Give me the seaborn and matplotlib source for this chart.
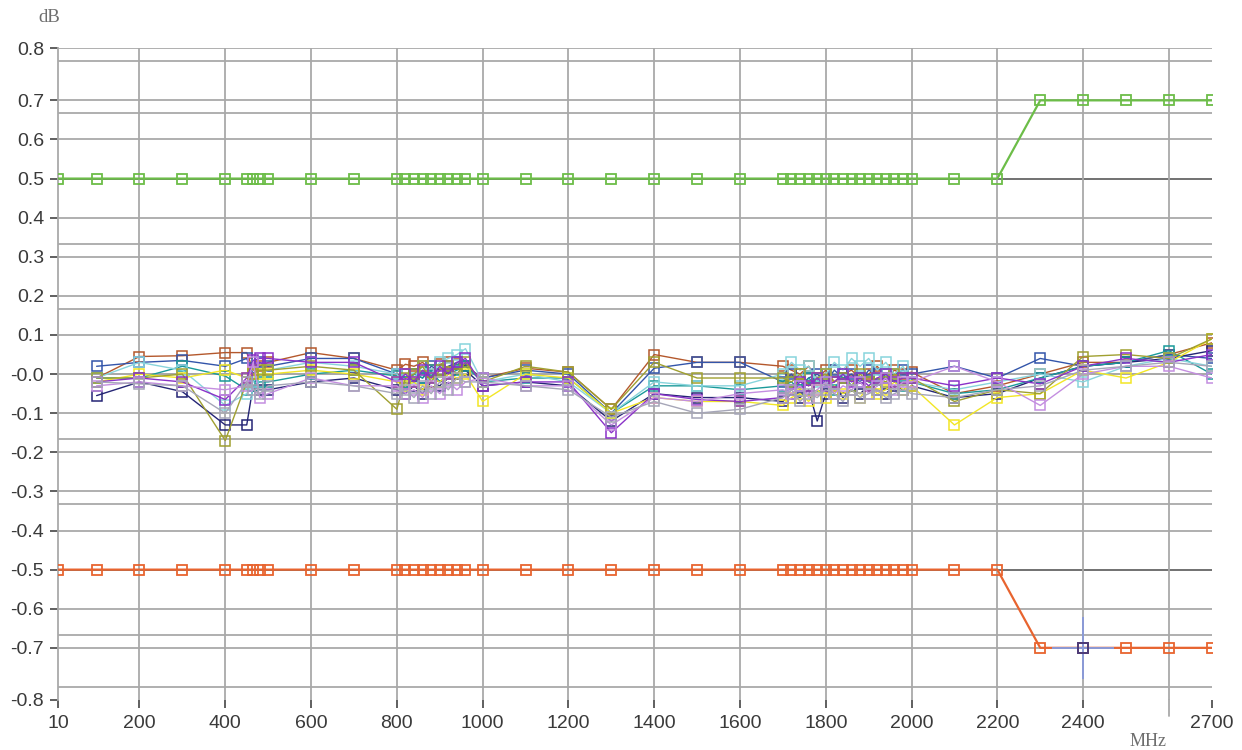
import numpy as np
import pandas as pd
import matplotlib
matplotlib.use("Agg")
import matplotlib.pyplot as plt
import seaborn as sns

# ---- frequencies (MHz) ----
freq = [100, 200, 300, 400,
        450, 465, 480, 500,
        600, 700,
        800, 820, 840, 860, 880, 900, 920, 940, 960,
        1000, 1100, 1200, 1300, 1400, 1500, 1600,
        1700, 1720, 1740, 1760, 1780, 1800, 1820, 1840, 1860, 1880,
        1900, 1920, 1940, 1960, 1980, 2000,
        2100, 2200, 2300, 2400, 2500, 2600, 2700]
limit_freq = [10] + freq

# ---- limit lines (dB): +/-0.5 up to 2200 MHz, +/-0.7 above ----
upper_limit = [0.5] * 45 + [0.7] * 5
lower_limit = [-0.5] * 45 + [-0.7] * 5

# ---- measured deviation per unit (dB) ----
brown = [-0.01, 0.045, 0.047, 0.055,
         0.055, 0.01, 0.02, 0.03,
         0.055, 0.04,
         0.01, 0.025, 0.02, 0.03, 0.01, 0.025, 0.03, 0.025, 0.02,
         -0.01, 0.015, 0.005, -0.09, 0.05, 0.03, 0.03,
         0.02, 0.01, 0.0, 0.02, -0.01, 0.01, -0.02, 0.0, 0.01, -0.01,
         0.0, 0.02, -0.01, 0.01, 0.0, 0.005,
         -0.05, -0.03, 0.0, 0.03, 0.03, 0.05, 0.08]
blue = [0.02, 0.03, 0.035, 0.02,
        0.04, 0.0, 0.03, 0.02,
        0.04, 0.04,
        0.0, -0.02, 0.0, -0.01, 0.02, 0.01, 0.02, 0.03, 0.02,
        -0.01, 0.01, 0.0, -0.1, 0.015, 0.03, 0.03,
        -0.02, 0.0, -0.03, -0.01, 0.0, -0.02, 0.01, -0.01, 0.0, -0.02,
        0.01, 0.0, -0.01, 0.0, 0.01, 0.0,
        0.02, -0.01, 0.04, 0.02, 0.03, 0.05, 0.04]
navy = [-0.055, -0.02, -0.045, -0.13,
        -0.13, -0.03, -0.04, -0.04,
        -0.02, -0.01,
        -0.04, -0.05, -0.03, -0.05, -0.02, -0.03, -0.01, 0.0, 0.01,
        -0.03, -0.02, -0.03, -0.12, -0.05, -0.06, -0.06,
        -0.07, -0.05, -0.06, -0.04, -0.12, -0.05, -0.03, -0.06, -0.04, -0.05,
        -0.03, -0.04, -0.05, -0.03, -0.04, -0.03,
        -0.06, -0.05, -0.01, 0.02, 0.03, 0.04, 0.06]
teal = [-0.01, -0.01, 0.02, -0.005,
        -0.04, -0.03, -0.02, -0.02,
        0.0, 0.01,
        -0.005, -0.02, 0.0, -0.01, 0.01, -0.02, 0.0, 0.01, 0.02,
        -0.02, -0.01, -0.01, -0.1, -0.03, -0.03, -0.04,
        -0.03, -0.02, -0.04, -0.01, -0.03, -0.02, -0.04, 0.0, -0.03, -0.01,
        -0.02, -0.03, 0.0, -0.02, -0.03, -0.02,
        -0.05, -0.04, -0.01, 0.02, 0.03, 0.06, 0.0]
cyan = [-0.01, 0.03, 0.01, -0.08,
        -0.05, -0.02, 0.0, 0.01,
        0.03, 0.02,
        0.0, -0.03, -0.01, 0.02, 0.0, 0.03, 0.04, 0.05, 0.065,
        -0.02, 0.0, -0.02, -0.1, -0.02, -0.03, -0.03,
        0.0, 0.03, 0.01, 0.02, -0.02, 0.0, 0.03, 0.01, 0.04, 0.02,
        0.04, 0.01, 0.03, 0.0, 0.02, -0.02,
        -0.04, -0.02, 0.0, -0.02, 0.02, 0.04, 0.02]
yellow = [-0.02, 0.0, -0.01, 0.01,
          -0.01, 0.0, 0.0, 0.0,
          0.01, 0.0,
          -0.02, -0.03, -0.02, -0.04, -0.01, -0.02, 0.0, -0.01, 0.0,
          -0.07, 0.0, -0.01, -0.1, -0.06, -0.07, -0.07,
          -0.08, -0.06, -0.05, -0.07, -0.04, -0.06, -0.03, -0.05, -0.04, -0.06,
          -0.03, -0.05, -0.04, -0.02, -0.04, -0.03,
          -0.13, -0.06, -0.05, 0.01, -0.01, 0.03, 0.09]
olive = [-0.01, -0.01, 0.0, -0.17,
         -0.02, 0.0, 0.01, 0.01,
         0.02, 0.01,
         -0.09, -0.01, 0.0, 0.02, -0.02, 0.01, 0.02, 0.0, 0.03,
         -0.02, 0.02, 0.005, -0.09, 0.03, -0.01, -0.01,
         -0.01, -0.02, 0.0, -0.03, -0.01, 0.0, -0.02, -0.01, -0.03, 0.0,
         -0.02, -0.01, -0.02, 0.0, -0.01, -0.01,
         -0.07, -0.04, -0.05, 0.045, 0.05, 0.04, 0.09]
purple = [-0.02, -0.01, -0.02, -0.065,
          -0.01, 0.035, 0.04, 0.04,
          0.03, 0.03,
          -0.02, 0.0, -0.02, 0.01, -0.01, 0.02, 0.0, 0.03, 0.04,
          -0.03, -0.02, -0.02, -0.15, -0.05, -0.065, -0.07,
          -0.06, -0.04, -0.02, -0.03, -0.01, -0.03, -0.02, 0.0, -0.02, -0.01,
          -0.03, -0.01, 0.0, -0.02, -0.01, -0.01,
          -0.03, -0.01, -0.025, 0.02, 0.04, 0.03, 0.05]
lavender = [-0.03, -0.02, -0.03, -0.04,
            -0.03, 0.03, -0.06, -0.05,
            -0.01, -0.03,
            -0.03, -0.05, -0.04, -0.06, -0.03, -0.05, -0.02, -0.04, -0.02,
            -0.01, -0.03, -0.03, -0.13, -0.06, -0.07, -0.05,
            -0.04, -0.05, -0.03, -0.06, -0.04, -0.02, -0.05, -0.03, -0.04, -0.02,
            -0.05, -0.03, -0.01, -0.04, -0.02, -0.02,
            0.02, -0.02, -0.08, 0.0, 0.02, 0.02, -0.01]
gray = [-0.02, -0.025, -0.03, -0.1,
        -0.02, -0.04, -0.05, -0.03,
        -0.02, -0.03,
        -0.05, -0.04, -0.06, -0.03, -0.05, -0.02, -0.04, -0.01, -0.02,
        -0.02, -0.03, -0.04, -0.11, -0.07, -0.1, -0.09,
        -0.06, -0.04, -0.07, -0.05, -0.06, -0.04, -0.05, -0.07, -0.04, -0.06,
        -0.05, -0.04, -0.06, -0.05, -0.04, -0.05,
        -0.06, -0.04, -0.03, 0.01, 0.02, 0.03, 0.02]

series = {"brown": brown, "blue": blue, "navy": navy, "teal": teal,
          "cyan": cyan, "yellow": yellow, "olive": olive, "purple": purple,
          "lavender": lavender, "gray": gray}
series_colors = {"brown": "#b4582c", "blue": "#3355aa", "navy": "#252575",
                 "teal": "#1a9a9a", "cyan": "#88d4dc", "yellow": "#f2e626",
                 "olive": "#a0a030", "purple": "#8a32c8", "lavender": "#c48ee0",
                 "gray": "#a6a6b8"}

# cursor readout position
cursor_freq = [2400]
cursor_db = [-0.7]

# long format for seaborn
df = pd.concat([pd.DataFrame({"MHz": freq, "dB": vals, "unit": name})
                for name, vals in series.items()], ignore_index=True)
limits = pd.DataFrame({"MHz": limit_freq, "upper": upper_limit, "lower": lower_limit})

sns.set_theme(style="white")
plt.rcParams["font.family"] = ["Liberation Sans", "DejaVu Sans"]

fig = plt.figure(figsize=(12.42, 7.5), dpi=100)
ax = fig.add_axes([0.0467, 0.0667, 0.929, 0.869])

YMAX = 5 / 6
GRID = "#a9a9a9"

# grid: labelled 0.1 steps plus a second set every 1/6 dB
for y in np.arange(-8, 9) / 10:
    ax.axhline(y, color=GRID, lw=1.3, zorder=0)
for k in range(-4, 6):
    c = "#6e6e6e" if k in (-3, 3) else GRID
    ax.axhline(k / 6, color=c, lw=1.3, zorder=0)
for x in range(200, 2700, 200):
    ax.axvline(x, color=GRID, lw=1.3, zorder=0)
ax.axvline(2600, ymin=-0.025, ymax=0, color=GRID, lw=1.3, clip_on=False)

for name, vals in series.items():
    sub = df[df["unit"] == name]
    c = series_colors[name]
    sns.lineplot(data=sub, x="MHz", y="dB", ax=ax, color=c, lw=1.0,
                 marker="s", markersize=7, markerfacecolor="none",
                 markeredgecolor=c, markeredgewidth=1.1, zorder=3)

for col, c in [("upper", "#6cbd48"), ("lower", "#e8642f")]:
    sns.lineplot(data=limits, x="MHz", y=col, ax=ax, color=c, lw=1.6,
                 marker="s", markersize=7, markerfacecolor="none",
                 markeredgecolor=c, markeredgewidth=1.3, zorder=4)

# cursor crosshair
ax.plot(cursor_freq, cursor_db, marker="+", markersize=44, color="#8a9ad8",
        markeredgewidth=1.4, zorder=5, ls="none")
ax.plot(cursor_freq, cursor_db, marker="s", markersize=7, markerfacecolor="none",
        markeredgecolor="#4b3a78", markeredgewidth=1.4, zorder=6, ls="none")

ax.set_xlim(10, 2700)
ax.set_ylim(-YMAX, YMAX)

xt = [10] + list(range(200, 2500, 200)) + [2700]
ax.set_xticks(xt)
ax.set_xticklabels([str(v) for v in xt])
yt = [-YMAX] + [round(v, 1) for v in np.arange(-7, 8) / 10] + [YMAX]
ylabels = ["-0.8"] + ["%.1f" % v if v != 0 else "-0.0" for v in yt[1:-1]] + ["0.8"]
ax.set_yticks(yt)
ax.set_yticklabels(ylabels)
ax.tick_params(axis="both", which="major", direction="out", length=6, width=1.2,
               color="#444444", labelcolor="#3a3a3a", labelsize=14,
               left=True, bottom=True)
ax.tick_params(axis="x", pad=5)
ax.tick_params(axis="y", pad=4)
ax.set_xlabel("")
ax.set_ylabel("")

for side in ["top", "right", "bottom"]:
    ax.spines[side].set_visible(False)
ax.spines["left"].set_color(GRID)
ax.spines["left"].set_linewidth(1.3)

fig.text(38 / 1242, 1 - 18 / 750, "dB", family="Liberation Serif", fontsize=13.5,
         color="#6e6e6e", va="center", ha="left")
fig.text(1130 / 1242, 1 - 742 / 750, "MHz", family="Liberation Serif", fontsize=13,
         color="#6e6e6e", va="center", ha="left")

fig.savefig("out.png", dpi=100)
